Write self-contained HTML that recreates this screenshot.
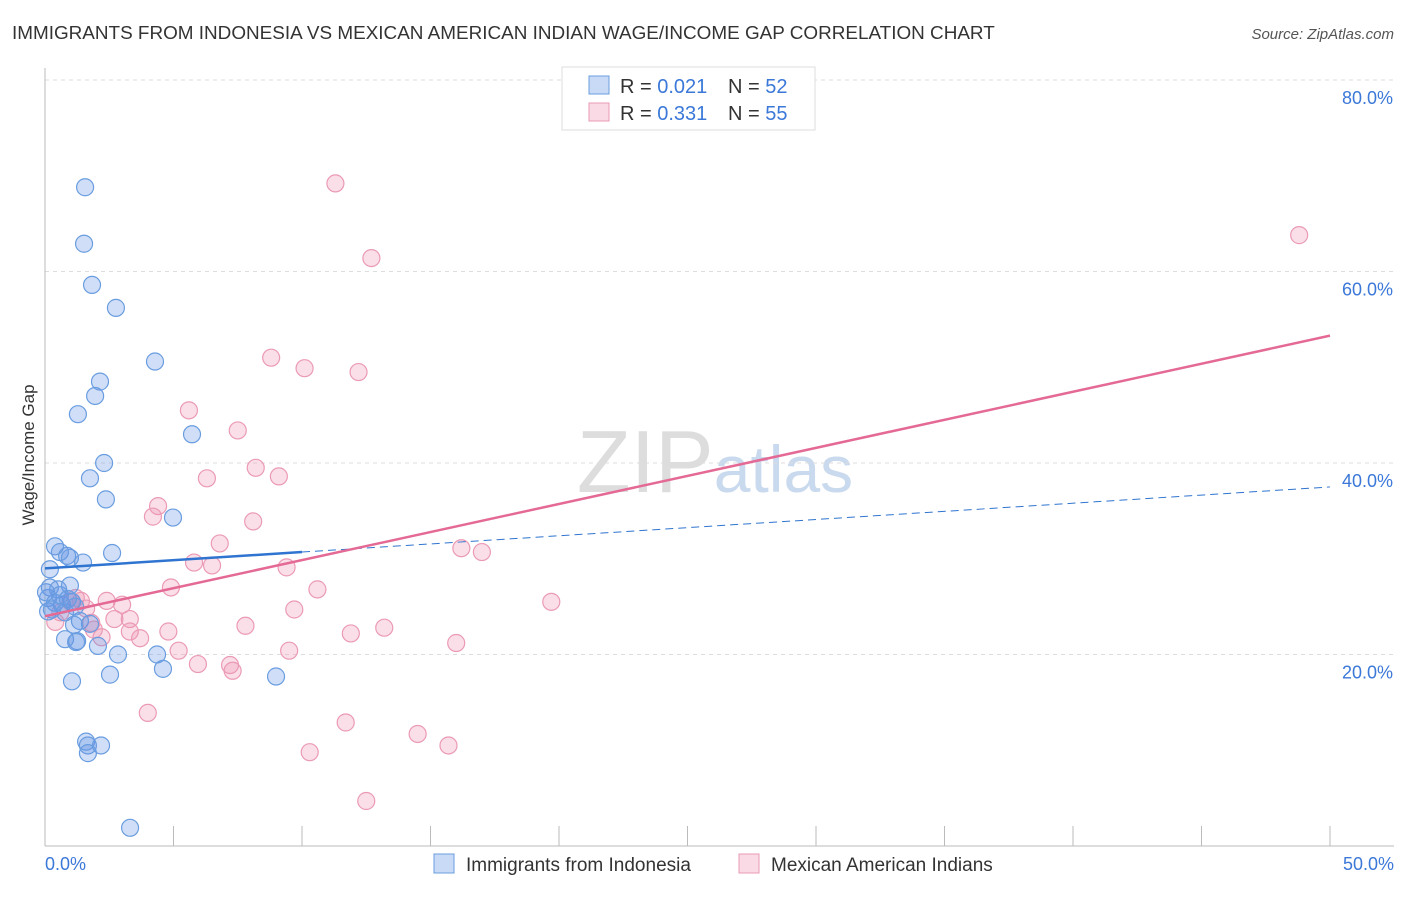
<!DOCTYPE html>
<html><head><meta charset="utf-8"><style>
body{margin:0;background:#fff;font-family:"Liberation Sans",sans-serif;}
svg text{font-family:"Liberation Sans",sans-serif;}
</style></head><body>
<svg id="c" width="1406" height="892">
<text x="12" y="39" font-size="18.9" fill="#333">IMMIGRANTS FROM INDONESIA VS MEXICAN AMERICAN INDIAN WAGE/INCOME GAP CORRELATION CHART</text>
<text x="1394" y="39" font-size="15" fill="#555" text-anchor="end" font-style="italic">Source: ZipAtlas.com</text>
<text x="34" y="455" font-size="17" fill="#333" text-anchor="middle" transform="rotate(-90 34 455)">Wage/Income Gap</text>
<text x="715" y="492" font-size="88" fill="#ddd" text-anchor="middle" font-family="Liberation Serif">ZIP<tspan fill="#c9d9ee" font-family="Liberation Sans" font-size="66">atlas</tspan></text>
<g id="grid"></g><g id="pts"></g><g id="lines"></g>
<g>
<rect x="562" y="67" width="253" height="63" fill="#fff" stroke="#ddd"/>
<rect x="589" y="76" width="20" height="18" fill="rgba(100,150,230,0.35)" stroke="#6a9de0"/>
<text x="620" y="93" font-size="20" fill="#333">R = <tspan fill="#3b78d8">0.021</tspan></text>
<text x="728" y="93" font-size="20" fill="#333">N = <tspan fill="#3b78d8">52</tspan></text>
<rect x="589" y="103" width="20" height="18" fill="rgba(240,150,180,0.35)" stroke="#eb9ab5"/>
<text x="620" y="120" font-size="20" fill="#333">R = <tspan fill="#3b78d8">0.331</tspan></text>
<text x="728" y="120" font-size="20" fill="#333">N = <tspan fill="#3b78d8">55</tspan></text>
</g>
<g>
<rect x="434" y="854" width="20" height="19" fill="rgba(100,150,230,0.35)" stroke="#6a9de0"/>
<text x="466" y="871" font-size="19" fill="#333">Immigrants from Indonesia</text>
<rect x="739" y="854" width="20" height="19" fill="rgba(240,150,180,0.35)" stroke="#eb9ab5"/>
<text x="771" y="871" font-size="19" fill="#333">Mexican American Indians</text>
</g>
</svg>
<script>
const yTicks=[20,40,60,80];
const xTickLabels=["0.0%","50.0%"];
const blueX=[1.56,1.52,1.83,2.76,4.28,2.14,1.95,1.28,5.72,2.30,1.75,2.37,4.98,0.39,0.58,0.86,0.97,1.48,2.61,0.19,0.19,0.51,0.97,0.12,0.39,0.66,1.05,0.12,0.78,1.36,1.75,1.13,0.78,1.25,1.21,2.06,2.84,4.36,4.59,2.53,8.99,1.05,1.60,1.67,2.18,1.67,3.31,0.27,0.58,0.89,1.17,0.04];
const blueY=[68.8,62.9,58.6,56.2,50.6,48.5,47.0,45.1,43.0,40.0,38.4,36.2,34.3,31.3,30.7,30.3,30.1,29.6,30.6,28.9,27.0,26.8,27.2,25.9,25.4,25.2,25.5,24.5,24.4,23.5,23.2,23.1,21.6,21.4,21.3,20.9,20.0,20.0,18.5,17.9,17.7,17.2,10.9,10.5,10.5,9.7,1.9,24.7,26.2,25.8,25.0,26.5];
const pinkX=[11.3,12.7,48.8,8.8,10.1,12.2,5.6,7.5,8.2,6.3,9.1,4.4,4.2,8.1,6.8,16.2,17.0,5.8,6.5,9.4,4.9,10.6,19.7,2.4,1.4,3.0,9.7,3.3,2.7,1.8,7.8,13.2,11.9,4.8,3.3,3.7,2.2,1.9,16.0,5.2,9.5,5.95,7.2,7.3,4.0,11.7,14.5,15.7,10.3,12.5,0.6,1.0,0.4,1.2,1.6];
const pinkY=[69.2,61.4,63.8,51.0,49.9,49.5,45.5,43.4,39.5,38.4,38.6,35.5,34.4,33.9,31.6,31.1,30.7,29.6,29.3,29.1,27.0,26.8,25.5,25.6,25.6,25.2,24.7,23.7,23.7,23.3,23.0,22.8,22.2,22.4,22.4,21.7,21.8,22.6,21.2,20.4,20.4,19.0,18.9,18.3,13.9,12.9,11.7,10.5,9.8,4.7,24.4,25.5,23.4,25.9,24.8];
const blueFit=[29.0,37.5]; // y at x=0 and x=50
const pinkFit=[24.0,53.3];
const X=v=>45+v/50*1285, Y=v=>846-v*9.575;
const NS="http://www.w3.org/2000/svg";
function mk(t,a,p){const e=document.createElementNS(NS,t);for(const k in a)e.setAttribute(k,a[k]);p.appendChild(e);return e;}
const g=document.getElementById('grid');
yTicks.forEach(t=>{
 const l=mk('line',{x1:45,x2:1394,y1:Y(t),y2:Y(t),stroke:'#ddd','stroke-dasharray':'4,4'},g);
 
 
 const tx=mk('text',{x:1393,y:Y(t)+24,'font-size':18,fill:'#3b78d8','text-anchor':'end'},g);tx.textContent=t.toFixed(1)+'%';
 
 
});
mk('line',{x1:45,x2:45,y1:68,y2:846,stroke:'#bbb'},g);
mk('line',{x1:45,x2:1394,y1:846,y2:846,stroke:'#bbb'},g);
for(let i=0;i<=10;i++){mk('line',{x1:X(i*5),x2:X(i*5),y1:826,y2:846,stroke:'#bbb'},g);}
const xl=mk('text',{x:45,y:870,'font-size':18,fill:'#3b78d8'},g);xl.textContent=xTickLabels[0];


const xr=mk('text',{x:1394,y:870,'font-size':18,fill:'#3b78d8','text-anchor':'end'},g);xr.textContent=xTickLabels[1];


const p=document.getElementById('pts');
pinkX.forEach((v,i)=>{const c=mk('circle',{cx:X(v),cy:Y(pinkY[i]),r:8.5,fill:'rgba(240,150,180,0.3)',stroke:'#eb9ab5','stroke-width':1.2},p);
 
 });
blueX.forEach((v,i)=>{const c=mk('circle',{cx:X(v),cy:Y(blueY[i]),r:8.5,fill:'rgba(100,150,230,0.3)',stroke:'#6a9de0','stroke-width':1.2},p);
 
 });
const L=document.getElementById('lines');
const bAt=x=>blueFit[0]+(blueFit[1]-blueFit[0])*x/50;
const b1=mk('line',{x1:X(0),y1:Y(bAt(0)),x2:X(10),y2:Y(bAt(10)),stroke:'#2f74d0','stroke-width':2.5},L);


const b2=mk('line',{x1:X(10),y1:Y(bAt(10)),x2:X(50),y2:Y(bAt(50)),stroke:'#2f74d0','stroke-width':1,'stroke-dasharray':'8,5'},L);


const pl=mk('line',{x1:X(0),y1:Y(pinkFit[0]),x2:X(50),y2:Y(pinkFit[1]),stroke:'#e46a95','stroke-width':2.5},L);


</script>
</body></html>
